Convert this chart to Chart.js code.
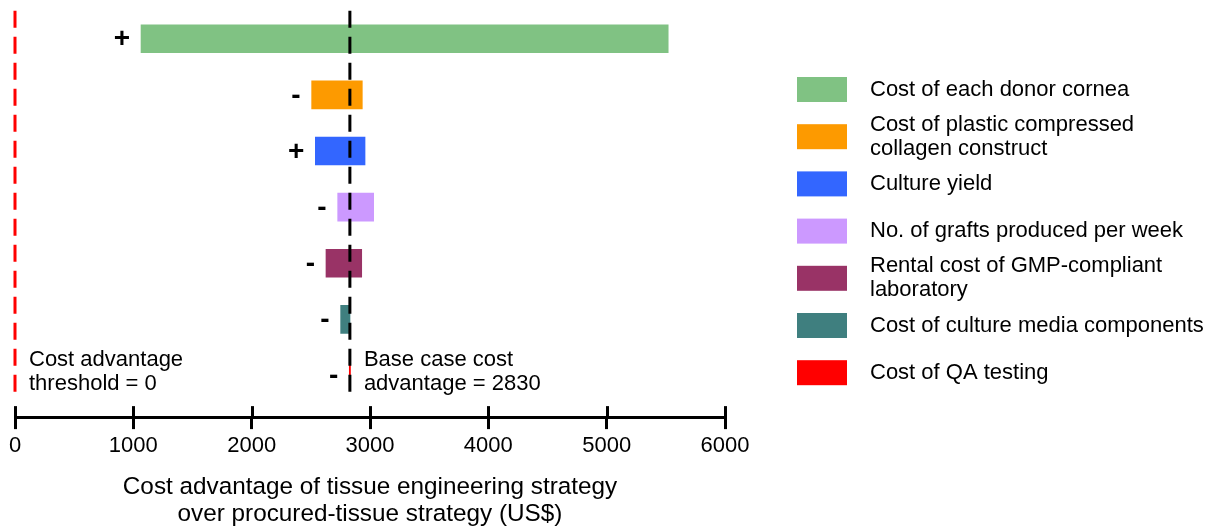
<!DOCTYPE html>
<html>
<head>
<meta charset="utf-8">
<title>Tornado diagram – cost advantage</title>
<script src="https://cdn.jsdelivr.net/npm/chart.js@4.4.1/dist/chart.umd.min.js"></script>
<style>
  html, body { margin: 0; padding: 0; background: #ffffff; }
  canvas { display: block; }
</style>
</head>
<body>
<canvas id="tornado" width="1206" height="528"></canvas>
<script>
// Parameters varied in the one-way sensitivity analysis (legend order, top to bottom)
const categories = [
  ['Cost of each donor cornea'],
  ['Cost of plastic compressed', 'collagen construct'],
  ['Culture yield'],
  ['No. of grafts produced per week'],
  ['Rental cost of GMP-compliant', 'laboratory'],
  ['Cost of culture media components'],
  ['Cost of QA testing']
];
// Range of the cost advantage (US$) when each parameter is varied
const lowValues  = [1065, 2507, 2538, 2727, 2628, 2752, 2825];
const highValues = [5520, 2935, 2958, 3031, 2930, 2831, 2835];
// Direction of the relationship, printed beside each bar
const signs = ['+', '-', '+', '-', '-', '-', '-'];
const barColors = ['#80c283', '#fd9a00', '#3366ff', '#cc99ff', '#993366', '#3f7f7f', '#ff0000'];
// Reference values
const thresholdValue = 0;
const baseCaseValue = 2830;
const xTickValues = [0, 1000, 2000, 3000, 4000, 5000, 6000];
const xTitle = ['Cost advantage of tissue engineering strategy', 'over procured-tissue strategy (US$)'];
const thresholdNote = ['Cost advantage', 'threshold = 0'];
const baseCaseNote = ['Base case cost', 'advantage = 2830'];

const FONT = '"Liberation Sans", Arial, Helvetica, sans-serif';

const barData = categories.map((c, i) => ({ x: [lowValues[i], highValues[i]], y: i }));

const overlayPlugin = {
  id: 'tornadoOverlay',
  afterDatasetsDraw(chart) {
    const { ctx, chartArea } = chart;
    const xs = chart.scales.x;
    const lineBottom = chartArea.bottom - 21;

    // Dashed reference lines
    const drawDashed = (value, color) => {
      const px = xs.getPixelForValue(value);
      ctx.save();
      ctx.strokeStyle = color;
      ctx.lineWidth = 3;
      ctx.setLineDash([17, 9]);
      ctx.beginPath();
      ctx.moveTo(px, chartArea.top);
      ctx.lineTo(px, lineBottom);
      ctx.stroke();
      ctx.restore();
    };
    drawDashed(thresholdValue, '#ff0000');
    drawDashed(baseCaseValue, '#000000');

    // +/- signs to the left of each bar
    const meta = chart.getDatasetMeta(0);
    ctx.save();
    ctx.fillStyle = '#000';
    ctx.font = 'bold 28px ' + FONT;
    ctx.textAlign = 'right';
    ctx.textBaseline = 'middle';
    meta.data.forEach((bar, i) => {
      const left = Math.min(bar.x, bar.base);
      ctx.fillText(signs[i], left - 11, bar.y + 1);
    });
    ctx.restore();

    // Notes next to the reference lines
    ctx.save();
    ctx.fillStyle = '#000';
    ctx.font = '22px ' + FONT;
    ctx.textAlign = 'left';
    ctx.textBaseline = 'middle';
    const noteY = chartArea.bottom - 57;
    const tx = xs.getPixelForValue(thresholdValue) + 14;
    thresholdNote.forEach((t, k) => ctx.fillText(t, tx, noteY + k * 24));
    const bx = xs.getPixelForValue(baseCaseValue) + 14;
    baseCaseNote.forEach((t, k) => ctx.fillText(t, bx, noteY + k * 24));
    ctx.restore();
  },
  afterDraw(chart) {
    const { ctx, chartArea } = chart;
    const xs = chart.scales.x;
    // Upper half of the tick marks (crossing the axis line)
    ctx.save();
    ctx.strokeStyle = '#000';
    ctx.lineWidth = 3;
    xs.ticks.forEach(t => {
      const px = Math.round(xs.getPixelForValue(t.value)) + 0.5;
      ctx.beginPath();
      ctx.moveTo(px, chartArea.bottom - 11);
      ctx.lineTo(px, chartArea.bottom);
      ctx.stroke();
    });
    ctx.restore();

    // Legend
    ctx.save();
    ctx.font = '22px ' + FONT;
    ctx.textAlign = 'left';
    ctx.textBaseline = 'middle';
    const boxX = 797, boxW = 50, boxH = 25, firstTop = 77, step = 47.2, textX = 870;
    categories.forEach((lines, i) => {
      const top = firstTop + i * step;
      ctx.fillStyle = barColors[i];
      ctx.fillRect(boxX, top, boxW, boxH);
      ctx.fillStyle = '#000';
      const cy = top + boxH / 2;
      const startY = cy - (lines.length - 1) * 12;
      lines.forEach((t, k) => ctx.fillText(t, textX, startY + k * 24));
    });
    ctx.restore();
  }
};

new Chart(document.getElementById('tornado'), {
  type: 'bar',
  data: {
    labels: categories,
    datasets: [{
      data: barData,
      backgroundColor: barColors,
      borderWidth: 0,
      barThickness: 28
    }]
  },
  options: {
    indexAxis: 'y',
    responsive: false,
    animation: false,
    devicePixelRatio: 1,
    layout: { padding: { top: 10.65, left: 15, right: 481, bottom: 0 } },
    plugins: { legend: { display: false }, tooltip: { enabled: false } },
    scales: {
      y: {
        type: 'linear',
        display: false,
        offset: false,
        reverse: true,
        min: -0.5,
        max: 6.74
      },
      x: {
        type: 'linear',
        min: 0,
        max: 6000,
        afterBuildTicks: (scale) => { scale.ticks = xTickValues.map(v => ({ value: v })); },
        border: { display: true, color: '#000', width: 3 },
        grid: { display: true, drawOnChartArea: false, drawTicks: true, tickLength: 12, color: '#000', lineWidth: 3 },
        ticks: {
          color: '#000',
          font: { family: FONT, size: 22 },
          padding: 4,
          maxRotation: 0,
          callback: (v) => String(v)
        },
        title: {
          display: true,
          text: xTitle,
          color: '#000',
          font: { family: FONT, size: 24.3, lineHeight: 1.08 },
          padding: { top: 11, bottom: 1 }
        }
      }
    }
  },
  plugins: [overlayPlugin]
});
</script>
</body>
</html>
